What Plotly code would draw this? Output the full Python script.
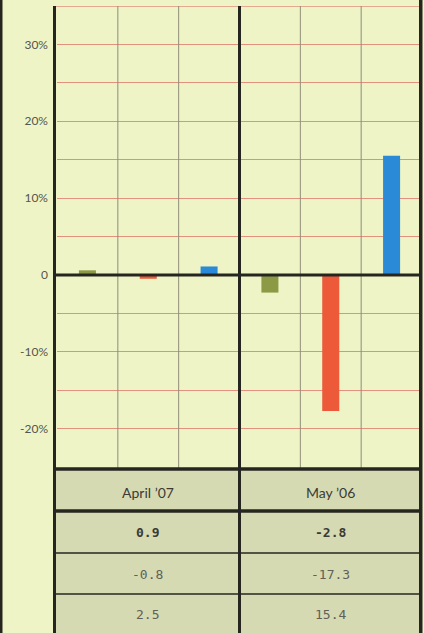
import plotly.graph_objects as go

# ---- data ----
periods = ["April \u201907", "May \u201906"]
series_names = ["Row 1", "Row 2", "Row 3"]
series_colors = ["#8c9a46", "#ec5a3a", "#2a8ad8"]
# bar heights as drawn (percent)
bar_values = [
    [0.6, -2.3],
    [-0.5, -17.7],
    [1.1, 15.5],
]
# table values as printed
table_values = [
    ["0.9", "-2.8"],
    ["-0.8", "-17.3"],
    ["2.5", "15.4"],
]
y_tick_vals = [-25, -20, -15, -10, -5, 0, 5, 10, 15, 20, 25, 30, 35]
y_tick_text = ["", "-20%", "", "-10%", "", "0", "", "10%", "", "20%", "", "30%", ""]

W, H = 424, 633
BG = "#eef4c6"
CELL = "#d6dab2"
DARK = "#262620"
GRID = "#e2917e"


def px(x):
    return x / W


def py(y):
    return 1 - y / H


fig = go.Figure()
for name, color, vals in zip(series_names, series_colors, bar_values):
    fig.add_trace(go.Bar(x=periods, y=vals, name=name, marker_color=color,
                         marker_line_width=0, showlegend=False, hoverinfo="skip"))

shapes = []
# table background
shapes.append(dict(type="rect", xref="paper", yref="paper", x0=px(55), x1=px(421),
                   y0=py(633), y1=py(468), fillcolor=CELL, line_width=0, layer="below"))
# top gridline at the upper edge of the plot
shapes.append(dict(type="line", xref="paper", yref="y", x0=px(55), x1=px(421),
                   y0=35, y1=35, line=dict(color=GRID, width=1.5)))
# thin vertical grid lines inside each panel
for k in [1, 2, 4, 5]:
    xv = -0.5 + k / 3
    shapes.append(dict(type="line", xref="x", yref="paper", x0=xv, x1=xv,
                       y0=py(468), y1=py(6), line=dict(color="#8e8e78", width=1)))
# zero line
shapes.append(dict(type="line", xref="paper", yref="y", x0=px(55), x1=px(421),
                   y0=0, y1=0, line=dict(color=DARK, width=3)))
# thick verticals
for xv in [54.5, 239.5]:
    shapes.append(dict(type="line", xref="paper", yref="paper", x0=px(xv), x1=px(xv),
                       y0=py(633), y1=py(6), line=dict(color=DARK, width=3)))
shapes.append(dict(type="rect", xref="paper", yref="paper", x0=px(419), x1=px(422.5),
                   y0=py(633), y1=py(0), fillcolor=DARK, line_width=0))
# far-left border
shapes.append(dict(type="rect", xref="paper", yref="paper", x0=px(0), x1=px(2.5),
                   y0=py(633), y1=py(0), fillcolor=DARK, line_width=0))
# table horizontals
for yv, wv in [(469, 3.5), (511, 3.5), (553, 1.5), (594, 1.5)]:
    shapes.append(dict(type="line", xref="paper", yref="paper", x0=px(54), x1=px(421),
                       y0=py(yv), y1=py(yv), line=dict(color=DARK, width=wv)))

annotations = []
col_centers = [147.5, 330.5]
for p, cx in zip(periods, col_centers):
    annotations.append(dict(x=px(cx), y=py(492), xref="paper", yref="paper", text=p,
                            showarrow=False, xanchor="center", yanchor="middle",
                            font=dict(family="Lato", size=14, color="#3a3a36")))
row_y = [532, 574, 614]
for r, (row, yy) in enumerate(zip(table_values, row_y)):
    for val, cx in zip(row, col_centers):
        txt = f"<b>{val}</b>" if r == 0 else val
        annotations.append(dict(x=px(cx), y=py(yy), xref="paper", yref="paper", text=txt,
                                showarrow=False, xanchor="center", yanchor="middle",
                                font=dict(family="DejaVu Sans Mono", size=13,
                                          color="#3a3a36" if r == 0 else "#606058")))

fig.update_layout(
    width=W, height=H,
    margin=dict(l=0, r=0, t=0, b=0),
    paper_bgcolor=BG, plot_bgcolor=BG,
    barmode="group", bargap=0, bargroupgap=0.72,
    xaxis=dict(domain=[px(57), px(422)], range=[-0.5, 1.5], showticklabels=False,
               showgrid=False, zeroline=False, fixedrange=True),
    yaxis=dict(domain=[py(467), py(6)], range=[-25, 35], tickvals=y_tick_vals,
               ticktext=y_tick_text, showgrid=True, gridcolor=GRID, gridwidth=1,
               zeroline=False, ticks="", ticklabelstandoff=8, fixedrange=True,
               tickfont=dict(family="Lato", size=12, color="#56564c")),
    shapes=shapes,
    annotations=annotations,
)

fig.write_html("out.html", config={"displayModeBar": False},
               post_script="document.body.style.margin='0';"
               "document.body.style.overflow='hidden';")
